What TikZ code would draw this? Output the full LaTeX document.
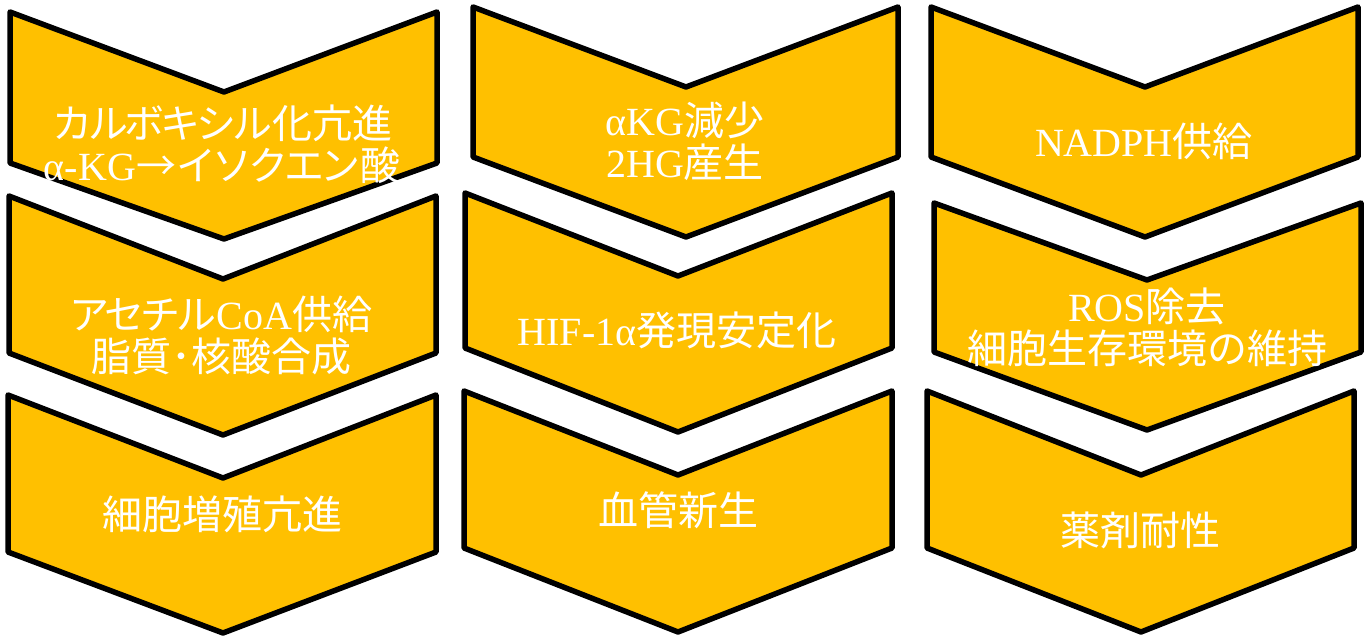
\documentclass[tikz,border=0pt]{standalone}
\usepackage{fontspec}
\setmainfont{Liberation Serif}
\newfontfamily\jp{Noto Sans CJK JP}
\newfontfamily\kana{Noto Sans CJK JP}[LetterSpace=-10]
\definecolor{gold}{HTML}{FFC000}
\tikzset{
  chev/.style={fill=gold, draw=black, line width=5.5pt, line join=round},
  lbl/.style={text=white, inner sep=0pt, align=center, font=\fontsize{40pt}{42pt}\selectfont}
}
\newcommand\mychev[7]{%
  \path[chev] (#1,#4) -- (#3,#5) -- (#2,#4) -- (#2,#6) -- (#3,#7) -- (#1,#6) -- cycle;}
\begin{document}
\begin{tikzpicture}[x=1pt,y=-1pt]
\useasboundingbox (0,0) rectangle (1370,636);
\mychev{10}{437}{224}{12}{92}{163}{239}
\mychev{473}{898}{686}{7}{87}{157}{237}
\mychev{931}{1358}{1145}{7}{87}{157}{237}
\mychev{9}{436}{223}{196}{279}{353}{435}
\mychev{465}{892}{678}{193}{276}{348}{432}
\mychev{934}{1361}{1147}{203}{280}{352}{430}
\mychev{8}{436}{223}{395}{478}{552}{633}
\mychev{464}{892}{678}{391}{475}{548}{632}
\mychev{927}{1354}{1141}{391}{475}{548}{632}
\node[lbl] (t1) at (222,144.5) {{\kana カルボキシル}{\jp 化亢進}\\α-KG{\jp →}{\kana イソクエン}{\jp 酸}};
\node[lbl] (t2) at (685,141.5) {αKG{\jp 減少}\\2HG{\jp 産生}};
\node[lbl] (t3) at (1144,141) {NADPH{\jp 供給}};
\node[lbl] (t4) at (221,335) {{\kana アセチル}CoA{\jp 供給}\\{\jp 脂質･核酸合成}};
\node[lbl] (t5) at (677,330) {HIF-1α{\jp 発現安定化}};
\node[lbl] (t6) at (1147,327.5) {ROS{\jp 除去}\\{\jp 細胞生存環境の維持}};
\node[lbl] (t7) at (222,514) {\jp 細胞増殖亢進};
\node[lbl] (t8) at (678,510) {\jp 血管新生};
\node[lbl] (t9) at (1140,530) {\jp 薬剤耐性};
\end{tikzpicture}
\end{document}
